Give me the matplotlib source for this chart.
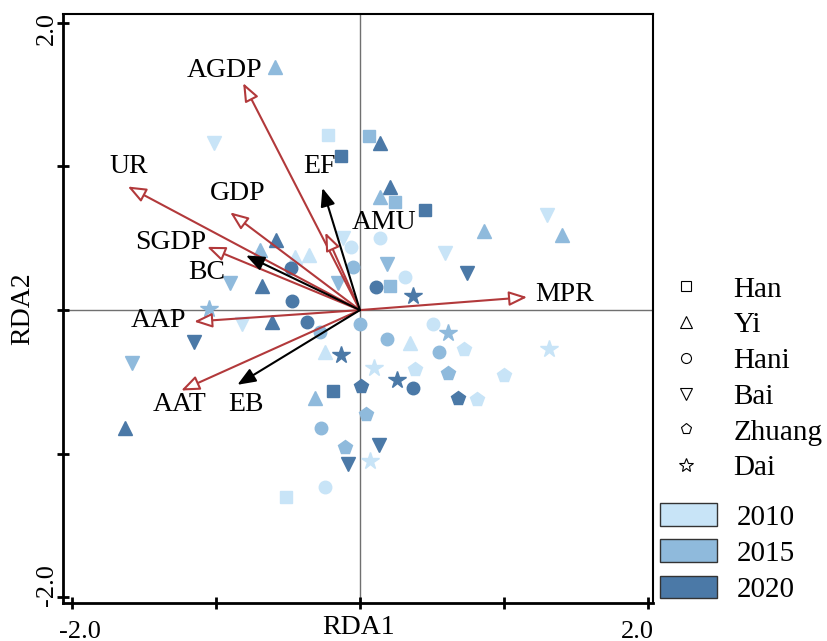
import numpy as np
import matplotlib
matplotlib.use("Agg")
import matplotlib.pyplot as plt
import matplotlib.transforms as mtransforms
from matplotlib.lines import Line2D
from matplotlib.patches import Patch

plt.rcParams['font.family'] = ['Liberation Serif', 'DejaVu Serif']
plt.rcParams['axes.unicode_minus'] = False

# sample scores (RDA1, RDA2) and year of each sample, per ethnic group
han_x = [-0.22, -0.13, 0.06, 0.24, 0.45, 0.21, -0.19, -0.51]
han_y = [1.22, 1.07, 1.21, 0.75, 0.70, 0.17, -0.56, -1.30]
han_yr = [2010, 2020, 2015, 2015, 2020, 2015, 2020, 2010]

yi_x = [-0.59, 0.14, 0.21, 0.14, 0.86, 1.40, -0.58, -0.69, -0.45, -0.35, -0.68, -0.61, -0.24, -0.31, 0.35, -1.63]
yi_y = [1.69, 1.16, 0.86, 0.79, 0.55, 0.52, 0.49, 0.42, 0.37, 0.38, 0.17, -0.08, -0.29, -0.61, -0.23, -0.82]
yi_yr = [2015, 2020, 2020, 2015, 2015, 2015, 2020, 2015, 2010, 2010, 2020, 2020, 2010, 2015, 2010, 2020]

hani_x = [0.14, 0.31, 0.11, -0.48, -0.47, -0.37, -0.06, -0.05, 0.00, 0.19, 0.51, 0.55, 0.37, -0.27, -0.24, -0.28]
hani_y = [0.50, 0.23, 0.16, 0.29, 0.06, -0.08, 0.44, 0.30, -0.10, -0.20, -0.10, -0.29, -0.54, -0.82, -1.23, -0.15]
hani_yr = [2010, 2010, 2020, 2020, 2020, 2020, 2010, 2015, 2015, 2015, 2010, 2015, 2020, 2015, 2010, 2015]

bai_x = [-1.01, -0.12, 0.19, 0.59, 0.74, 1.30, -0.90, -0.15, -0.82, -1.15, -1.58, -0.08, 0.13]
bai_y = [1.16, 0.50, 0.32, 0.40, 0.26, 0.66, 0.19, 0.19, -0.10, -0.22, -0.37, -1.07, -0.94]
bai_yr = [2010, 2010, 2015, 2010, 2020, 2010, 2015, 2015, 2010, 2020, 2015, 2020, 2020]

zhuang_x = [0.01, 0.04, -0.10, 0.38, 0.61, 0.72, 0.68, 0.81, 1.00]
zhuang_y = [-0.53, -0.72, -0.95, -0.41, -0.44, -0.27, -0.61, -0.62, -0.45]
zhuang_yr = [2020, 2015, 2015, 2010, 2015, 2010, 2020, 2010, 2010]

dai_x = [-1.05, 0.37, -0.13, 0.10, 0.26, 0.61, 1.31, 0.07]
dai_y = [0.01, 0.10, -0.31, -0.40, -0.49, -0.16, -0.27, -1.05]
dai_yr = [2015, 2020, 2020, 2010, 2020, 2015, 2010, 2010]

# environmental vectors
red_names = ['AGDP', 'UR', 'GDP', 'SGDP', 'AMU', 'MPR', 'AAP', 'AAT']
red_x = [-0.81, -1.61, -0.90, -1.06, -0.24, 1.16, -1.15, -1.24]
red_y = [1.58, 0.86, 0.68, 0.44, 0.54, 0.09, -0.08, -0.56]
black_names = ['EF', 'BC', 'EB']
black_x = [-0.26, -0.79, -0.85]
black_y = [0.85, 0.38, -0.52]

# label positions of the vectors
lab_names = ['AGDP', 'UR', 'GDP', 'SGDP', 'BC', 'EF', 'AMU', 'MPR', 'AAP', 'AAT', 'EB']
lab_x = [-0.94, -1.60, -0.85, -1.31, -1.06, -0.28, 0.17, 1.42, -1.40, -1.25, -0.79]
lab_y = [1.67, 1.00, 0.81, 0.47, 0.26, 1.00, 0.61, 0.11, -0.07, -0.66, -0.66]

years = [2010, 2015, 2020]
year_col = {2010: '#c8e4f7', 2015: '#8fbadc', 2020: '#4b79a7'}

groups = [('Han', 's', 8.5, han_x, han_y, han_yr),
          ('Yi', '^', 10, yi_x, yi_y, yi_yr),
          ('Hani', 'o', 9, hani_x, hani_y, hani_yr),
          ('Bai', 'v', 10, bai_x, bai_y, bai_yr),
          ('Zhuang', 'p', 10, zhuang_x, zhuang_y, zhuang_yr),
          ('Dai', '*', 13, dai_x, dai_y, dai_yr)]

fig = plt.figure(figsize=(8.28, 6.41), dpi=100)
ax = fig.add_axes([0.076, 0.059, 0.713, 0.919])

ax.axhline(0, color='#707070', lw=1, zorder=1)
ax.axvline(0, color='#707070', lw=1, zorder=1)

for name, mk, ms, xs, ys, yrs in groups:
    for x, y, yr in zip(xs, ys, yrs):
        ax.plot(x, y, marker=mk, ms=ms, color=year_col[yr], mec=year_col[yr],
                linestyle='none', zorder=2)

red = '#b2393b'
for x, y in zip(red_x, red_y):
    ax.annotate('', xy=(x, y), xytext=(0, 0),
                arrowprops=dict(arrowstyle='-|>,head_length=0.55,head_width=0.22',
                                mutation_scale=20, fc='white', ec=red, lw=1.5,
                                shrinkA=0, shrinkB=0), zorder=3)
for x, y in zip(black_x, black_y):
    ax.annotate('', xy=(x, y), xytext=(0, 0),
                arrowprops=dict(arrowstyle='-|>,head_length=0.55,head_width=0.22',
                                mutation_scale=20, fc='black', ec='black', lw=1.5,
                                shrinkA=0, shrinkB=0), zorder=3)

for t, x, y in zip(lab_names, lab_x, lab_y):
    ax.text(x, y, t, fontsize=20, ha='center', va='center', zorder=4)

ax.set_xlim(-2.06, 2.035)
ax.set_ylim(-2.04, 2.06)
ax.set_xticks([-2, -1, 0, 1, 2])
ax.set_xticklabels(['-2.0', '', '', '', '2.0'], fontsize=19)
ax.set_yticks([-2, -1, 0, 1, 2])
ax.set_yticklabels(['-2.0', '', '', '', '2.0'], fontsize=19, rotation=90, va='center')
ax.tick_params(direction='inout', length=9, width=2)
ax.tick_params(axis='x', pad=8)
ax.tick_params(axis='y', pad=-1)

# the end labels sit a little inward of their ticks
shifts_x = {'-2.0': 8, '2.0': -11}
for lab in ax.get_xticklabels():
    dx = shifts_x.get(lab.get_text(), 0)
    lab.set_transform(lab.get_transform() + mtransforms.ScaledTranslation(dx / 100, 0, fig.dpi_scale_trans))
shifts_y = {'-2.0': 12, '2.0': -6}
for lab in ax.get_yticklabels():
    dy = shifts_y.get(lab.get_text(), 0)
    lab.set_transform(lab.get_transform() + mtransforms.ScaledTranslation(0, dy / 100, fig.dpi_scale_trans))

ax.set_xlabel('RDA1', fontsize=20, va='baseline')
ax.xaxis.set_label_coords(0.5, -0.052)
ax.set_ylabel('RDA2', fontsize=20)
ax.yaxis.set_label_coords(-0.047, 0.5)
for s in ['left', 'bottom']:
    ax.spines[s].set_linewidth(2)
for s in ['top', 'right']:
    ax.spines[s].set_linewidth(1.5)

h1 = [Line2D([], [], marker=mk, ms=ms * 0.8, mfc='none', mec='black', mew=0.8,
             linestyle='none', label=name) for name, mk, ms, xs, ys, yrs in groups]
fig.legend(handles=h1, loc='upper left', bbox_to_anchor=(0.812, 0.569),
           frameon=False, fontsize=21, handlelength=0.95, handletextpad=1.15,
           labelspacing=0.32, borderpad=0, borderaxespad=0)
h2 = [Patch(fc=year_col[yr], ec='#333333', lw=1, label=str(yr)) for yr in years]
fig.legend(handles=h2, loc='upper left', bbox_to_anchor=(0.797, 0.215),
           frameon=False, fontsize=21, handlelength=1.95, handleheight=0.82,
           handletextpad=0.7, labelspacing=0.3, borderpad=0, borderaxespad=0)

fig.savefig('out.png', dpi=100)
